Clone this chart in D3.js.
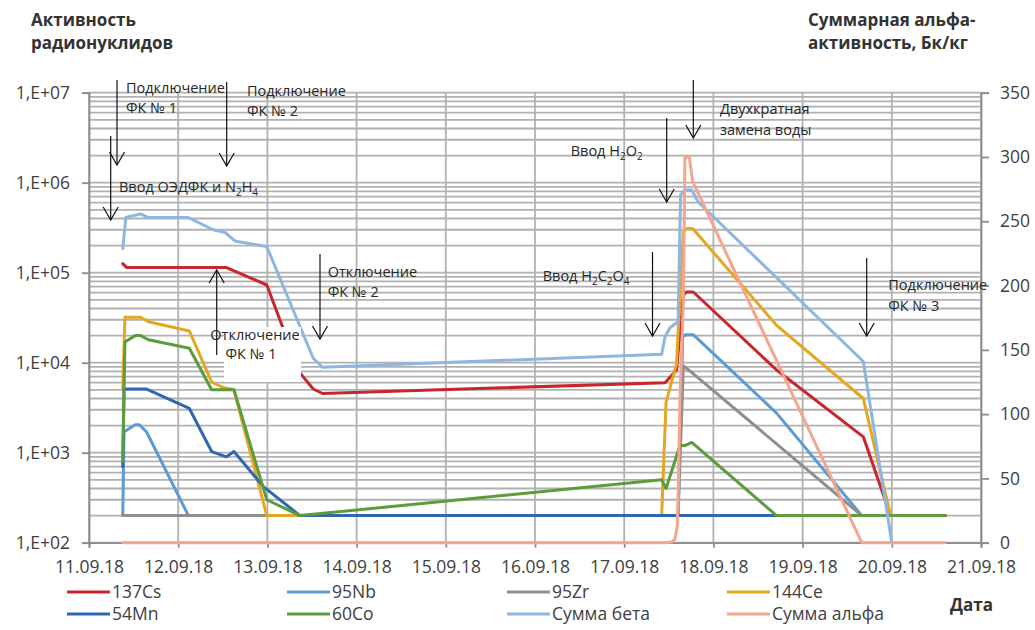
<!DOCTYPE html>
<html>
<head>
<meta charset="utf-8">
<script src="https://cdn.jsdelivr.net/npm/d3@7"></script>
<style>
  html, body { margin: 0; padding: 0; background: #fff; }
  svg { display: block; font-family: "Open Sans", "Noto Sans", sans-serif; }
</style>
</head>
<body>
<svg id="chart" width="1035" height="630"></svg>
<script>
// ---- Data: activity of radionuclides (Bq/kg, log axis) and total alpha (right axis) ----
const dayTicks = ["11.09.18","12.09.18","13.09.18","14.09.18","15.09.18","16.09.18","17.09.18","18.09.18","19.09.18","20.09.18","21.09.18"];
const leftTicks = [1e2, 1e3, 1e4, 1e5, 1e6, 1e7];
const rightTicks = [0, 50, 100, 150, 200, 250, 300, 350];

const cs137 = [
  ["11.09.18 09:05", 1.26e5], ["11.09.18 10:10", 1.14e5], ["12.09.18 13:00", 1.14e5],
  ["12.09.18 23:50", 7.3e4], ["13.09.18 08:45", 7.7e3], ["13.09.18 12:20", 5.1e3],
  ["13.09.18 14:50", 4.55e3], ["17.09.18 11:00", 6.0e3], ["17.09.18 14:05", 8.3e3],
  ["17.09.18 15:55", 5.6e4], ["17.09.18 16:40", 6.1e4], ["17.09.18 18:35", 6.1e4],
  ["18.09.18 17:00", 8.3e3], ["19.09.18 16:20", 1.5e3], ["19.09.18 23:40", 200],
  ["20.09.18 14:20", 200]
];
const nb95 = [
  ["11.09.18 09:05", 200], ["11.09.18 09:25", 1.7e3], ["11.09.18 12:25", 2.05e3],
  ["11.09.18 13:30", 2.05e3], ["11.09.18 15:30", 1.7e3], ["12.09.18 02:45", 200],
  ["17.09.18 14:30", 200], ["17.09.18 15:45", 1.95e4], ["17.09.18 16:40", 2.05e4],
  ["17.09.18 18:35", 2.05e4], ["18.09.18 17:00", 2.75e3], ["19.09.18 15:55", 200],
  ["20.09.18 14:20", 200]
];
const zr95 = [
  ["11.09.18 09:05", 200], ["17.09.18 14:30", 200], ["17.09.18 15:55", 9.2e3],
  ["17.09.18 17:40", 8.1e3], ["19.09.18 15:55", 200], ["20.09.18 14:20", 200]
];
const ce144 = [
  ["11.09.18 09:05", 5.0e3], ["11.09.18 09:40", 3.2e4], ["11.09.18 13:55", 3.2e4],
  ["11.09.18 16:00", 2.85e4], ["12.09.18 03:00", 2.25e4], ["12.09.18 09:00", 6.1e3],
  ["12.09.18 12:05", 5.3e3], ["12.09.18 15:00", 5.0e3], ["12.09.18 23:50", 200],
  ["17.09.18 10:05", 200], ["17.09.18 11:15", 3.6e3], ["17.09.18 14:05", 9.8e3],
  ["17.09.18 15:55", 2.85e5], ["17.09.18 16:50", 3.1e5], ["17.09.18 18:25", 3.1e5],
  ["18.09.18 17:00", 2.6e4], ["19.09.18 16:20", 4.0e3], ["19.09.18 23:40", 200],
  ["20.09.18 14:20", 200]
];
const mn54 = [
  ["11.09.18 09:05", 700], ["11.09.18 09:25", 5.1e3], ["11.09.18 15:30", 5.1e3],
  ["12.09.18 03:00", 3.1e3], ["12.09.18 09:00", 1.03e3], ["12.09.18 13:00", 900],
  ["12.09.18 15:00", 1.03e3], ["12.09.18 22:55", 420], ["13.09.18 08:45", 200],
  ["20.09.18 14:20", 200]
];
const co60 = [
  ["11.09.18 09:05", 800], ["11.09.18 09:40", 1.7e4], ["11.09.18 12:25", 2.0e4],
  ["11.09.18 13:55", 2.0e4], ["11.09.18 16:00", 1.8e4], ["12.09.18 03:00", 1.45e4],
  ["12.09.18 09:00", 5.0e3], ["12.09.18 15:00", 5.0e3], ["12.09.18 23:50", 300],
  ["13.09.18 08:45", 200], ["17.09.18 10:05", 500], ["17.09.18 11:15", 400],
  ["17.09.18 15:00", 1.2e3], ["17.09.18 16:20", 1.2e3], ["17.09.18 18:10", 1.3e3],
  ["18.09.18 17:00", 200], ["20.09.18 14:20", 200]
];
const betaSum = [
  ["11.09.18 09:05", 1.85e5], ["11.09.18 09:55", 4.1e5], ["11.09.18 13:55", 4.5e5],
  ["11.09.18 16:00", 4.1e5], ["12.09.18 02:45", 4.1e5], ["12.09.18 09:25", 3.0e5],
  ["12.09.18 12:35", 2.8e5], ["12.09.18 15:15", 2.25e5], ["12.09.18 23:50", 1.95e5],
  ["13.09.18 12:20", 1.12e4], ["13.09.18 14:50", 8.9e3], ["17.09.18 10:05", 1.24e4],
  ["17.09.18 11:00", 1.95e4], ["17.09.18 12:20", 2.45e4], ["17.09.18 14:30", 2.85e4],
  ["17.09.18 15:10", 7.3e5], ["17.09.18 16:20", 8.3e5], ["17.09.18 18:10", 8.3e5],
  ["17.09.18 19:55", 6.1e5], ["19.09.18 16:20", 1.03e4], ["20.09.18 00:00", 100]
];
const alphaSum = [
  ["11.09.18 09:05", 0], ["17.09.18 11:00", 0], ["17.09.18 12:50", 0.5],
  ["17.09.18 13:40", 3], ["17.09.18 14:15", 12], ["17.09.18 14:30", 33],
  ["17.09.18 15:00", 111], ["17.09.18 15:55", 188], ["17.09.18 16:20", 300],
  ["17.09.18 17:30", 300], ["17.09.18 18:25", 281], ["19.09.18 15:55", 0],
  ["20.09.18 14:20", 0]
];

const seriesNames = ["137Cs", "95Nb", "95Zr", "144Ce", "54Mn", "60Co", "Сумма бета", "Сумма альфа"];
const seriesData = [cs137, nb95, zr95, ce144, mn54, co60, betaSum, alphaSum];
const seriesColors = ["#C8262C", "#5B9BD5", "#8E8E8E", "#E5A622", "#2F67B2", "#5C9C3C", "#8DB6E0", "#F4A58C"];
const seriesOnRight = [false, false, false, false, false, false, false, true];

// ---- Layout ----
const svg = d3.select("#chart");
const plot = { left: 89, right: 981, top: 92.7, bottom: 542.7 };
const parseTime = d3.timeParse("%d.%m.%y %H:%M");
const parseDay = d3.timeParse("%d.%m.%y");

const x = d3.scaleTime()
  .domain([parseDay(dayTicks[0]), parseDay(dayTicks[dayTicks.length - 1])])
  .range([plot.left, plot.right]);
const y = d3.scaleLog().domain([1e2, 1e7]).range([plot.bottom, plot.top]);
const y2 = d3.scaleLinear().domain([0, 350]).range([plot.bottom, plot.top]);

const gridColor = "#B1B1B1";
const axisColor = "#8C8C8C";
const textColor = "#404040";

// Horizontal grid: every 1..9 multiple of each decade
const grid = svg.append("g");
grid.selectAll("line.h").data(y.ticks()).join("line")
  .attr("x1", plot.left).attr("x2", plot.right)
  .attr("y1", d => y(d)).attr("y2", d => y(d))
  .attr("stroke", gridColor).attr("stroke-width", 1.8);
// Vertical grid: one line per day
grid.selectAll("line.v").data(dayTicks.map(parseDay)).join("line")
  .attr("x1", d => x(d)).attr("x2", d => x(d))
  .attr("y1", plot.top).attr("y2", plot.bottom)
  .attr("stroke", gridColor).attr("stroke-width", 1.8);

// Axes
function styleAxis(g) {
  g.selectAll("path.domain").attr("stroke", axisColor).attr("stroke-width", 1.8);
  g.selectAll(".tick line").attr("stroke", axisColor).attr("stroke-width", 1.8);
  g.selectAll(".tick text").attr("fill", textColor).style("font-size", "17.5px")
    .style("font-family", "'Open Sans', sans-serif");
}
const expLabel = d => "1,E+" + String(Math.round(Math.log10(d))).padStart(2, "0");

svg.append("g").attr("transform", `translate(${plot.left},0)`)
  .call(d3.axisLeft(y).tickValues(leftTicks).tickFormat(expLabel).tickSizeOuter(0).tickSize(7).tickPadding(12))
  .call(styleAxis);

svg.append("g").attr("transform", `translate(${plot.right},0)`)
  .call(d3.axisRight(y2).tickValues(rightTicks).tickSizeOuter(0).tickSize(8).tickPadding(11))
  .call(styleAxis);

svg.append("g").attr("transform", `translate(0,${plot.bottom})`)
  .call(d3.axisBottom(x).tickValues(dayTicks.map(parseDay)).tickFormat(d3.timeFormat("%d.%m.%y"))
        .tickSizeOuter(0).tickSize(5).tickPadding(13))
  .call(styleAxis);

// Series lines (drawn in legend order, later series on top)
seriesData.forEach((data, i) => {
  const ys = seriesOnRight[i] ? y2 : y;
  const line = d3.line()
    .x(d => x(parseTime(d[0])))
    .y(d => ys(d[1]));
  svg.append("path").datum(data)
    .attr("d", line)
    .attr("fill", "none")
    .attr("stroke", seriesColors[i])
    .attr("stroke-width", 3)
    .attr("stroke-linejoin", "round")
    .attr("stroke-linecap", "round");
});

// ---- Annotations ----
const ann = svg.append("g").attr("fill", "#262626")
  .style("font-size", "14.5px").style("font-family", "'Open Sans', sans-serif");

// White label box for "Отключение ФК № 1"
ann.append("rect").attr("x", 224).attr("y", 327).attr("width", 77).attr("height", 55)
  .attr("fill", "#fff");

function arrow(xp, yStart, yTip) {
  const dir = yTip > yStart ? -1 : 1;
  const g = ann.append("g").attr("stroke", "#111").attr("stroke-width", 1.2).attr("fill", "none");
  g.append("line").attr("x1", xp).attr("x2", xp).attr("y1", yStart).attr("y2", yTip);
  g.append("path").attr("d", `M${xp - 7.5},${yTip + dir * 13} L${xp},${yTip} L${xp + 7.5},${yTip + dir * 13}`);
}

function label(xp, yc, parts, anchor) {
  const t = ann.append("text").attr("x", xp).attr("y", yc).attr("dy", "0.35em")
    .attr("text-anchor", anchor || "start");
  let sub = false;
  parts.forEach(p => {
    if (typeof p === "string") {
      t.append("tspan").text(p).attr("dy", sub ? -4 : 0);
      sub = false;
    } else {
      t.append("tspan").text(p.sub).style("font-size", "10px").attr("dy", sub ? 0 : 4);
      sub = true;
    }
  });
}

arrow(117, 80, 165);
label(126, 92.7, ["Подключение"]);
label(126, 113.3, ["ФК № 1"]);

arrow(110.7, 136, 220);
label(119, 192.3, ["Ввод ОЭДФК и N", {sub: "2"}, "H", {sub: "4"}]);

arrow(226.7, 82, 166);
label(247, 96, ["Подключение"]);
label(247, 116, ["ФК № 2"]);

arrow(216.7, 355, 270);
label(255, 340, ["Отключение"], "middle");
label(251, 359, ["ФК № 1"], "middle");

arrow(320, 254, 339);
label(327.7, 277.3, ["Отключение"]);
label(327.7, 297.3, ["ФК № 2"]);

arrow(652.5, 252, 336);
label(542.7, 280.7, ["Ввод H", {sub: "2"}, "C", {sub: "2"}, "O", {sub: "4"}]);

arrow(666.7, 118, 202);
label(570.7, 156, ["Ввод H", {sub: "2"}, "O", {sub: "2"}]);

arrow(693.3, 80, 138);
label(720, 114.3, ["Двухкратная"]);
label(720, 135, ["замена воды"]);

arrow(866.7, 258, 336);
label(888.3, 290, ["Подключение"]);
label(888.3, 310.7, ["ФК № 3"]);

// ---- Axis titles ----
const titles = svg.append("g").attr("fill", "#333").style("font-weight", "bold")
  .style("font-size", "17px").style("font-family", "'Open Sans', sans-serif");
titles.append("text").attr("x", 31).attr("y", 20).attr("dy", "0.35em").text("Активность");
titles.append("text").attr("x", 31).attr("y", 43).attr("dy", "0.35em").text("радионуклидов");
titles.append("text").attr("x", 808).attr("y", 20).attr("dy", "0.35em").text("Суммарная альфа-");
titles.append("text").attr("x", 808).attr("y", 43).attr("dy", "0.35em").text("активность, Бк/кг");
titles.append("text").attr("x", 950).attr("y", 605).attr("dy", "0.35em").text("Дата");

// ---- Legend ----
const legendCols = [67, 287, 507, 727];
const legendRows = [592, 614];
const legend = svg.append("g").style("font-size", "17.5px").style("font-family", "'Open Sans', sans-serif");
seriesNames.forEach((name, i) => {
  const lx = legendCols[i % 4], ly = legendRows[Math.floor(i / 4)];
  legend.append("line").attr("x1", lx).attr("x2", lx + 43).attr("y1", ly).attr("y2", ly)
    .attr("stroke", seriesColors[i]).attr("stroke-width", 3);
  legend.append("text").attr("x", lx + 45).attr("y", ly).attr("dy", "0.35em")
    .attr("fill", textColor).text(name);
});
</script>
</body>
</html>
